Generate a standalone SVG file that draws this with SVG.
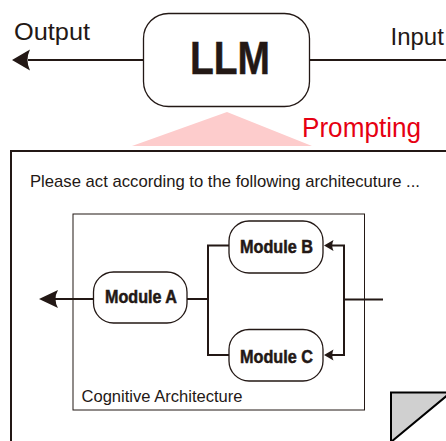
<svg xmlns="http://www.w3.org/2000/svg" width="446" height="441" viewBox="0 0 446 441">
<style>
.t{font-family:"Liberation Sans",Arial,sans-serif;fill:#231815}
.b{font-weight:bold;stroke:#231815;stroke-width:0.5}
.node{fill:#fff;stroke:#231815;stroke-width:1.3}
.ln{fill:none;stroke:#231815;stroke-width:2}
.ah{fill:#231815;stroke:none}
</style>
<rect width="446" height="441" fill="#fff"/>
<polygon points="227,112 312,146 132,146" fill="#fdcccc"/>
<g id="connectors">
<line class="ln" x1="28" y1="60" x2="143" y2="60"/>
<path class="ah" d="M12,60 L30,49.5 Q25,60 30,70.5 Z"/>
<line class="ln" x1="310" y1="60" x2="446" y2="60"/>
<line class="ln" x1="55" y1="299" x2="94" y2="299"/>
<path class="ah" d="M39,299 L58,290 Q53,299 58,308 Z"/>
<path class="ln" d="M187,299 H208 M229,245.5 H208 V355 H229"/>
<path class="ln" d="M383,299.5 H344 M331,245.5 H344 V355 H331"/>
<path class="ah" d="M324,245.5 L333.5,240 Q331,245.5 333.5,251 Z"/>
<path class="ah" d="M324,355 L333.5,349.5 Q331,355 333.5,360.5 Z"/>
</g>
<g id="llm">
<rect class="node" x="143.5" y="13.5" width="166" height="93" rx="25"/>
<text class="t b" x="230" y="73.5" font-size="46" stroke-width="1.6" text-anchor="middle" textLength="80" lengthAdjust="spacingAndGlyphs">LLM</text>
</g>
<text class="t" x="14" y="40" font-size="23" textLength="76" lengthAdjust="spacingAndGlyphs">Output</text>
<text class="t" x="390.5" y="45" font-size="24">Input</text>
<text x="302" y="136.5" font-size="27" font-family="Liberation Sans, Arial, sans-serif" fill="#e60012" textLength="119" lengthAdjust="spacingAndGlyphs">Prompting</text>
<g id="prompt">
<rect x="11" y="151" width="445" height="300" fill="none" stroke="#231815" stroke-width="2"/>
<text class="t" x="30" y="186.5" font-size="17" textLength="390" lengthAdjust="spacingAndGlyphs">Please act according to the following architecuture ...</text>
</g>
<g id="architecture">
<rect x="73" y="214" width="291.5" height="196" fill="none" stroke="#231815" stroke-width="1"/>
<text class="t" x="81.5" y="401.5" font-size="16" textLength="161" lengthAdjust="spacingAndGlyphs">Cognitive Architecture</text>
</g>
<g id="moduleA">
<rect class="node" x="93.5" y="272" width="93.5" height="51" rx="20"/>
<text class="t b" x="141" y="303.3" font-size="18" text-anchor="middle" textLength="72" lengthAdjust="spacingAndGlyphs">Module A</text>
</g>
<g id="moduleB">
<rect class="node" x="229" y="221" width="94" height="52" rx="20"/>
<text class="t b" x="276.5" y="252.7" font-size="18" text-anchor="middle" textLength="73" lengthAdjust="spacingAndGlyphs">Module B</text>
</g>
<g id="moduleC">
<rect class="node" x="229" y="329.5" width="94" height="51.5" rx="20"/>
<text class="t b" x="276.5" y="362.7" font-size="18" text-anchor="middle" textLength="73" lengthAdjust="spacingAndGlyphs">Module C</text>
</g>
<g id="pagecorner">
<polygon points="391,392.5 447,392.5 447,395.5 391,442" fill="#d0d0d0"/>
<path d="M391,443 V392.5 H447 M447,395.5 L391,442" fill="none" stroke="#000" stroke-width="2"/>
</g>
</svg>
